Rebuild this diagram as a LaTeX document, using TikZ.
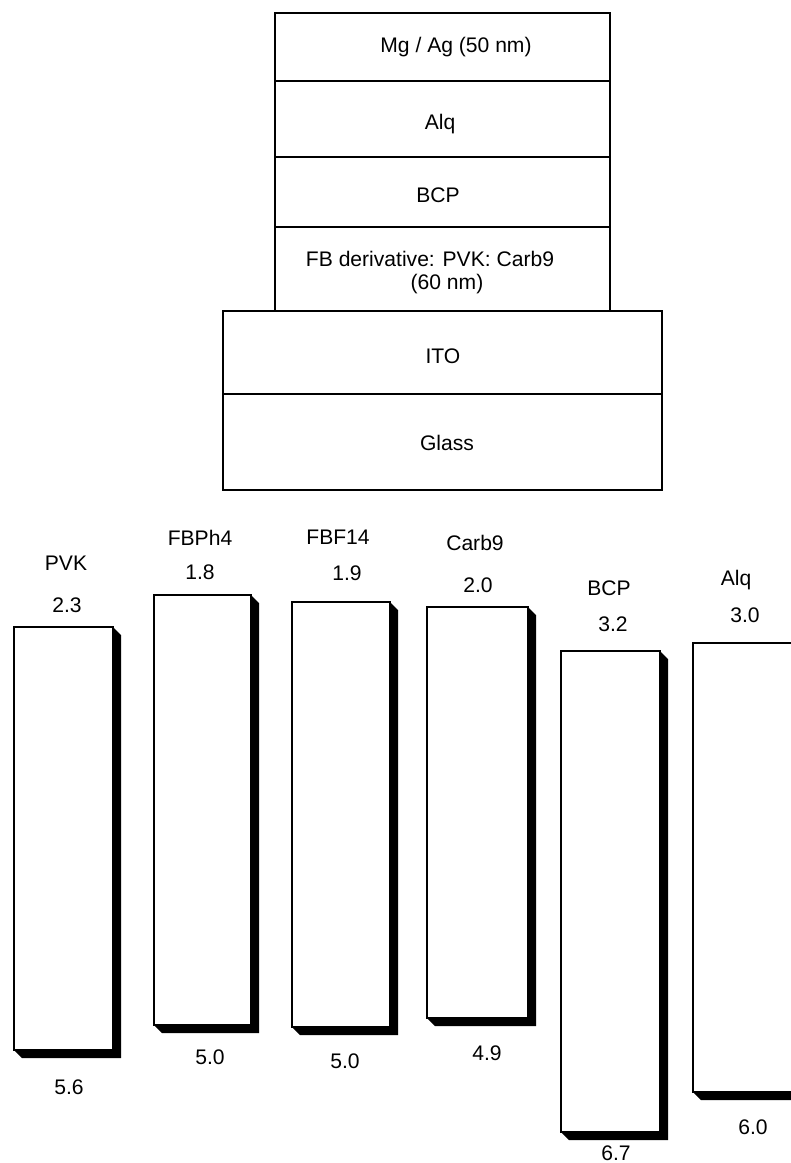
\documentclass[tikz,border=0pt]{standalone}
\usepackage{fontspec}
\setmainfont{Liberation Sans}

\begin{document}
\begin{tikzpicture}[x=0.02cm, y=-0.02cm, thick]

    % Define styles
    \tikzstyle{layer} = [draw, line width=1.1pt]
    \tikzstyle{bar} = [draw, fill=white, line width=1pt]
    \tikzstyle{shadow} = [fill=black]
    \tikzstyle{txt} = [font=\fontsize{12}{14.2}\selectfont, inner sep=0pt]

    % Picture frame
    \useasboundingbox (0,0) rectangle (791,1163);
    \clip (0,0) rectangle (791,1163);

    % Draw device layers
    \draw[layer] (275,13) rectangle (610,81);
    \draw[layer] (275,81) rectangle (610,157);
    \draw[layer] (275,157) rectangle (610,227);
    \draw[layer] (275,227) rectangle (610,311);
    \draw[layer] (223,311) rectangle (662,394);
    \draw[layer] (223,394) rectangle (662,490);

    % Layer names
    \node[txt] (mgag) at (456,47) {Mg / Ag (50 nm)};
    \node[txt] (alq) at (440,124) {Alq};
    \node[txt] (bcp) at (438,195) {BCP};
    \node[txt] (fbmix) at (430,259) {FB derivative: PVK: Carb9};
    \node[txt] (fbthick) at (447,284) {(60 nm)};
    \node[txt] (ito) at (443,356) {ITO};
    \node[txt] (glass) at (447,443) {Glass};

    % Energy level bars (shadow first, then the box)
    \fill[shadow] (113,627) -- ++(8,8) |- (22,1058) -- (14,1050) -- cycle;
    \draw[bar] (14,627) rectangle (113,1050);

    \fill[shadow] (251,595) -- ++(8,8) |- (162,1033) -- (154,1025) -- cycle;
    \draw[bar] (154,595) rectangle (251,1025);

    \fill[shadow] (390,602) -- ++(8,8) |- (300,1035) -- (292,1027) -- cycle;
    \draw[bar] (292,602) rectangle (390,1027);

    \fill[shadow] (528,607) -- ++(8,8) |- (435,1026) -- (427,1018) -- cycle;
    \draw[bar] (427,607) rectangle (528,1018);

    \fill[shadow] (660,651) -- ++(8,8) |- (569,1140) -- (561,1132) -- cycle;
    \draw[bar] (561,651) rectangle (660,1132);

    \fill[shadow] (792,643) -- ++(8,8) |- (701,1100) -- (693,1092) -- cycle;
    \draw[bar] (693,643) rectangle (792,1092);

    % Material names
    \node[txt] (pvkname) at (66,563) {PVK};
    \node[txt] (fbphname) at (200,538) {FBPh4};
    \node[txt] (fbfname) at (338,537) {FBF14};
    \node[txt] (carbname) at (475,543) {Carb9};
    \node[txt] (bcpname) at (609,588) {BCP};
    \node[txt] (alqname) at (736,580) {Alq};

    % Upper levels
    \node[txt] (pvktop) at (67,605) {2.3};
    \node[txt] (fbphtop) at (200,572) {1.8};
    \node[txt] (fbftop) at (347,573) {1.9};
    \node[txt] (carbtop) at (478,585) {2.0};
    \node[txt] (bcptop) at (613,624) {3.2};
    \node[txt] (alqtop) at (745,615) {3.0};

    % Lower levels
    \node[txt] (pvkbot) at (69,1087) {5.6};
    \node[txt] (fbphbot) at (210,1057) {5.0};
    \node[txt] (fbfbot) at (345,1061) {5.0};
    \node[txt] (carbbot) at (487,1053) {4.9};
    \node[txt] (bcpbot) at (616,1153) {6.7};
    \node[txt] (alqbot) at (753,1127) {6.0};

\end{tikzpicture}
\end{document}
